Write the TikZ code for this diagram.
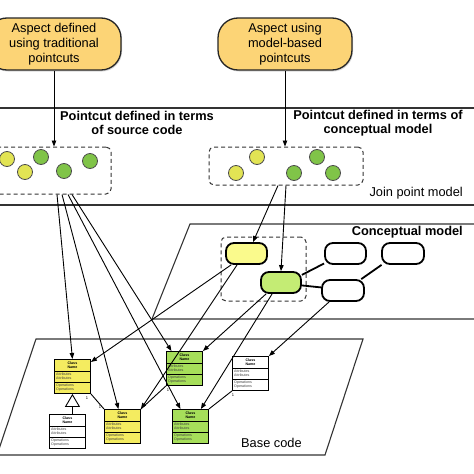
\documentclass[tikz,border=0pt]{standalone}
\usepackage{fontspec}
\setmainfont{Liberation Sans}
\usetikzlibrary{arrows.meta,shadows,calc}
\definecolor{aspectfill}{RGB}{252,212,118}
\definecolor{jpyellow}{RGB}{226,228,84}
\definecolor{jpgreen}{RGB}{128,196,72}
\definecolor{cyellow}{RGB}{250,250,140}
\definecolor{cgreen}{RGB}{196,236,116}
\definecolor{byellow}{RGB}{244,236,96}
\definecolor{bgreen}{RGB}{166,222,90}
\newcommand\umlclass[4]{%
  \node[classbox, fill=#4, anchor=north west] (#1) at (#2,#3) {};
  \draw[classsep] ($(#1.north west)+(0,12)$) -- ($(#1.north east)+(0,12)$);
  \draw[classsep] ($(#1.north west)+(0,23)$) -- ($(#1.north east)+(0,23)$);
  \node[classtxt, font=\fontsize{3.6}{4.3}\selectfont\bfseries, align=center, text=black] (#1-n) at ($(#1.north)+(0,6)$) {Class\\Name};
  \node[classtxt, align=left, anchor=west] (#1-a) at ($(#1.north west)+(2,17.5)$) {Attributes\\Attributes};
  \node[classtxt, align=left, anchor=west] (#1-o) at ($(#1.north west)+(2,28.5)$) {Operations\\Operations};
}
\begin{document}
\begin{tikzpicture}[x=1pt,y=-1pt,
  layer/.style={line width=1.1pt, draw=black!80},
  aspect/.style={draw=black!85, line width=1.3pt, fill=aspectfill, rounded corners=20pt,
    minimum width=134pt, minimum height=52pt, align=center, inner sep=0pt,
    font=\fontsize{12.8}{15}\selectfont,
    drop shadow={opacity=0.3, shadow xshift=1pt, shadow yshift=-1.5pt}},
  jpbox/.style={draw=black!80, line width=1pt, dash pattern=on 4pt off 3pt, rounded corners=5pt, inner sep=0pt},
  jpc/.style={circle, minimum size=15pt, inner sep=0pt, draw=black!70, line width=0.8pt},
  cnode/.style={draw=black, line width=1.8pt, rounded corners=8pt, minimum height=21pt, inner sep=0pt},
  cedge/.style={line width=1.8pt, draw=black},
  lbl/.style={inner sep=0pt, font=\fontsize{12.8}{14.5}\selectfont},
  blbl/.style={inner sep=0pt, align=center, font=\fontsize{12.8}{14.5}\selectfont\bfseries},
  classbox/.style={draw=black, line width=0.9pt, minimum width=36pt, minimum height=34pt, inner sep=0pt},
  classsep/.style={line width=0.6pt, draw=black},
  classtxt/.style={inner sep=0pt, font=\fontsize{3.6}{4.3}\selectfont, text=black!75},
  one/.style={inner sep=0pt, font=\fontsize{4}{4}\selectfont},
  conn/.style={line width=0.9pt, draw=black, -{Triangle[length=6pt,width=4.5pt]}},
  assoc/.style={line width=0.9pt, draw=black}
]
\useasboundingbox (0,0) rectangle (474,474);
\fill[white] (0,0) rectangle (474,474);
\clip (0,0) rectangle (474,474);

% layers
\draw[layer] (-5,108) -- (480,108);
\draw[layer] (-5,205) -- (480,205);
\draw[layer] (480,224) -- (190,224) -- (152,319) -- (480,319);
\draw[layer] (36,339) -- (363,339) -- (325,455) -- (-3,455) -- cycle;

% aspects
\node[aspect] (a1) at (54,44) {Aspect defined\\using traditional\\pointcuts};
\node[aspect] (a2) at (285,44) {Aspect using\\model-based\\pointcuts};

% labels
\node[blbl] (pt1) at (137,123) {Pointcut defined in terms\\of source code};
\node[blbl] (pt2) at (378,123) {Pointcut defined in terms of\\conceptual model};
\node[lbl, anchor=east] (jpm) at (463,193) {Join point model};
\node[blbl, anchor=east] (cm) at (463,232) {Conceptual model};
\node[lbl, anchor=west] (bc) at (241,443) {Base code};

% join point boxes
\node[jpbox, minimum width=156pt, minimum height=47pt] (jp1) at (33,170.5) {};
\node[jpbox, minimum width=154pt, minimum height=38pt] (jp2) at (286,166) {};
\node[jpc, fill=jpyellow] (p1) at (7,159) {};
\node[jpc, fill=jpgreen] (p2) at (41,157) {};
\node[jpc, fill=jpyellow] (p3) at (25,172) {};
\node[jpc, fill=jpgreen] (p4) at (64,171) {};
\node[jpc, fill=jpgreen] (p5) at (90,161) {};
\node[jpc, fill=jpyellow] (q1) at (257,157) {};
\node[jpc, fill=jpyellow] (q2) at (236,173) {};
\node[jpc, fill=jpgreen] (q3) at (317,157) {};
\node[jpc, fill=jpgreen] (q4) at (294,173) {};
\node[jpc, fill=jpgreen] (q5) at (333,173) {};

\draw[conn] (a1.south) -- (a1.south |- jp1.north);
\draw[conn] (a2.south) -- (a2.south |- jp2.north);

% conceptual model
\node[jpbox, minimum width=85pt, minimum height=64pt] (cbox) at (263.5,269) {};
\node[cnode, fill=cyellow, minimum width=41pt] (cy) at (246.5,253.5) {};
\node[cnode, fill=cgreen, minimum width=40pt] (cg) at (281,282.5) {};
\node[cnode, fill=white, minimum width=41pt] (cw1) at (345.5,253.5) {};
\node[cnode, fill=white, minimum width=42pt] (cw2) at (403,253.5) {};
\node[cnode, fill=white, minimum width=42pt] (cw3) at (343,290.5) {};
\draw[cedge] (cg.20) -- (cw1.205);
\draw[cedge] (cg.-8) -- (cw3.172);
\draw[cedge] (cw3.32) -- (cw2.208);

\draw[conn] ($(jp2.south)+(-8,0)$) -- ($(cy.north)+(6.5,0)$);
\draw[conn] (jp2.south) -- (cg.north);

% base code classes
\umlclass{by1}{54}{359}{byellow}
\umlclass{bsub}{49}{414}{white}
\umlclass{by2}{104}{409}{byellow}
\umlclass{bg1}{166}{351}{bgreen}
\umlclass{bg2}{172}{409}{bgreen}
\umlclass{bw1}{232}{356}{white}

\draw[line width=0.9pt, -{Triangle[open, length=13pt, width=15pt, line width=0.9pt]}] (bsub.north -| by1.south) -- (by1.south);

\draw[assoc] (by1.south east) -- (by2.north west);
\draw[assoc] (bg1.south west) -- (by2.north east);
\draw[assoc] (bw1.south west) -- (bg2.north east);
\node[one] (o1) at (87,398) {1};
\node[one] (o2) at (100,407) {1};
\node[one] (o3) at (168,390) {1};
\node[one] (o4) at (233,395) {1};

% connectors from source-code pointcuts
\draw[conn] ($(jp1.south)+(24,0)$) -- (by1.north);
\draw[conn] ($(jp1.south)+(29,0)$) -- ($(by2.north)+(-4,0)$);
\draw[conn] ($(jp1.south)+(35,0)$) -- ($(bg2.north)+(-10,0)$);
\draw[conn] ($(jp1.south)+(39,0)$) -- ($(bg1.north)+(-13,0)$);

% connectors from conceptual model
\draw[conn] ($(cy.south west)+(6,0)$) -- ($(by1.north east)+(0,3)$);
\draw[conn] ($(cy.south west)+(12,0)$) -- (by2.north east);
\draw[conn] ($(cg.south west)+(6,0)$) -- (bg1.north east);
\draw[conn] ($(cg.south west)+(12,0)$) -- ($(bg2.north east)+(-8,0)$);
\draw[conn] ($(cw3.south west)+(8,0)$) -- (bw1.north east);
\end{tikzpicture}
\end{document}
